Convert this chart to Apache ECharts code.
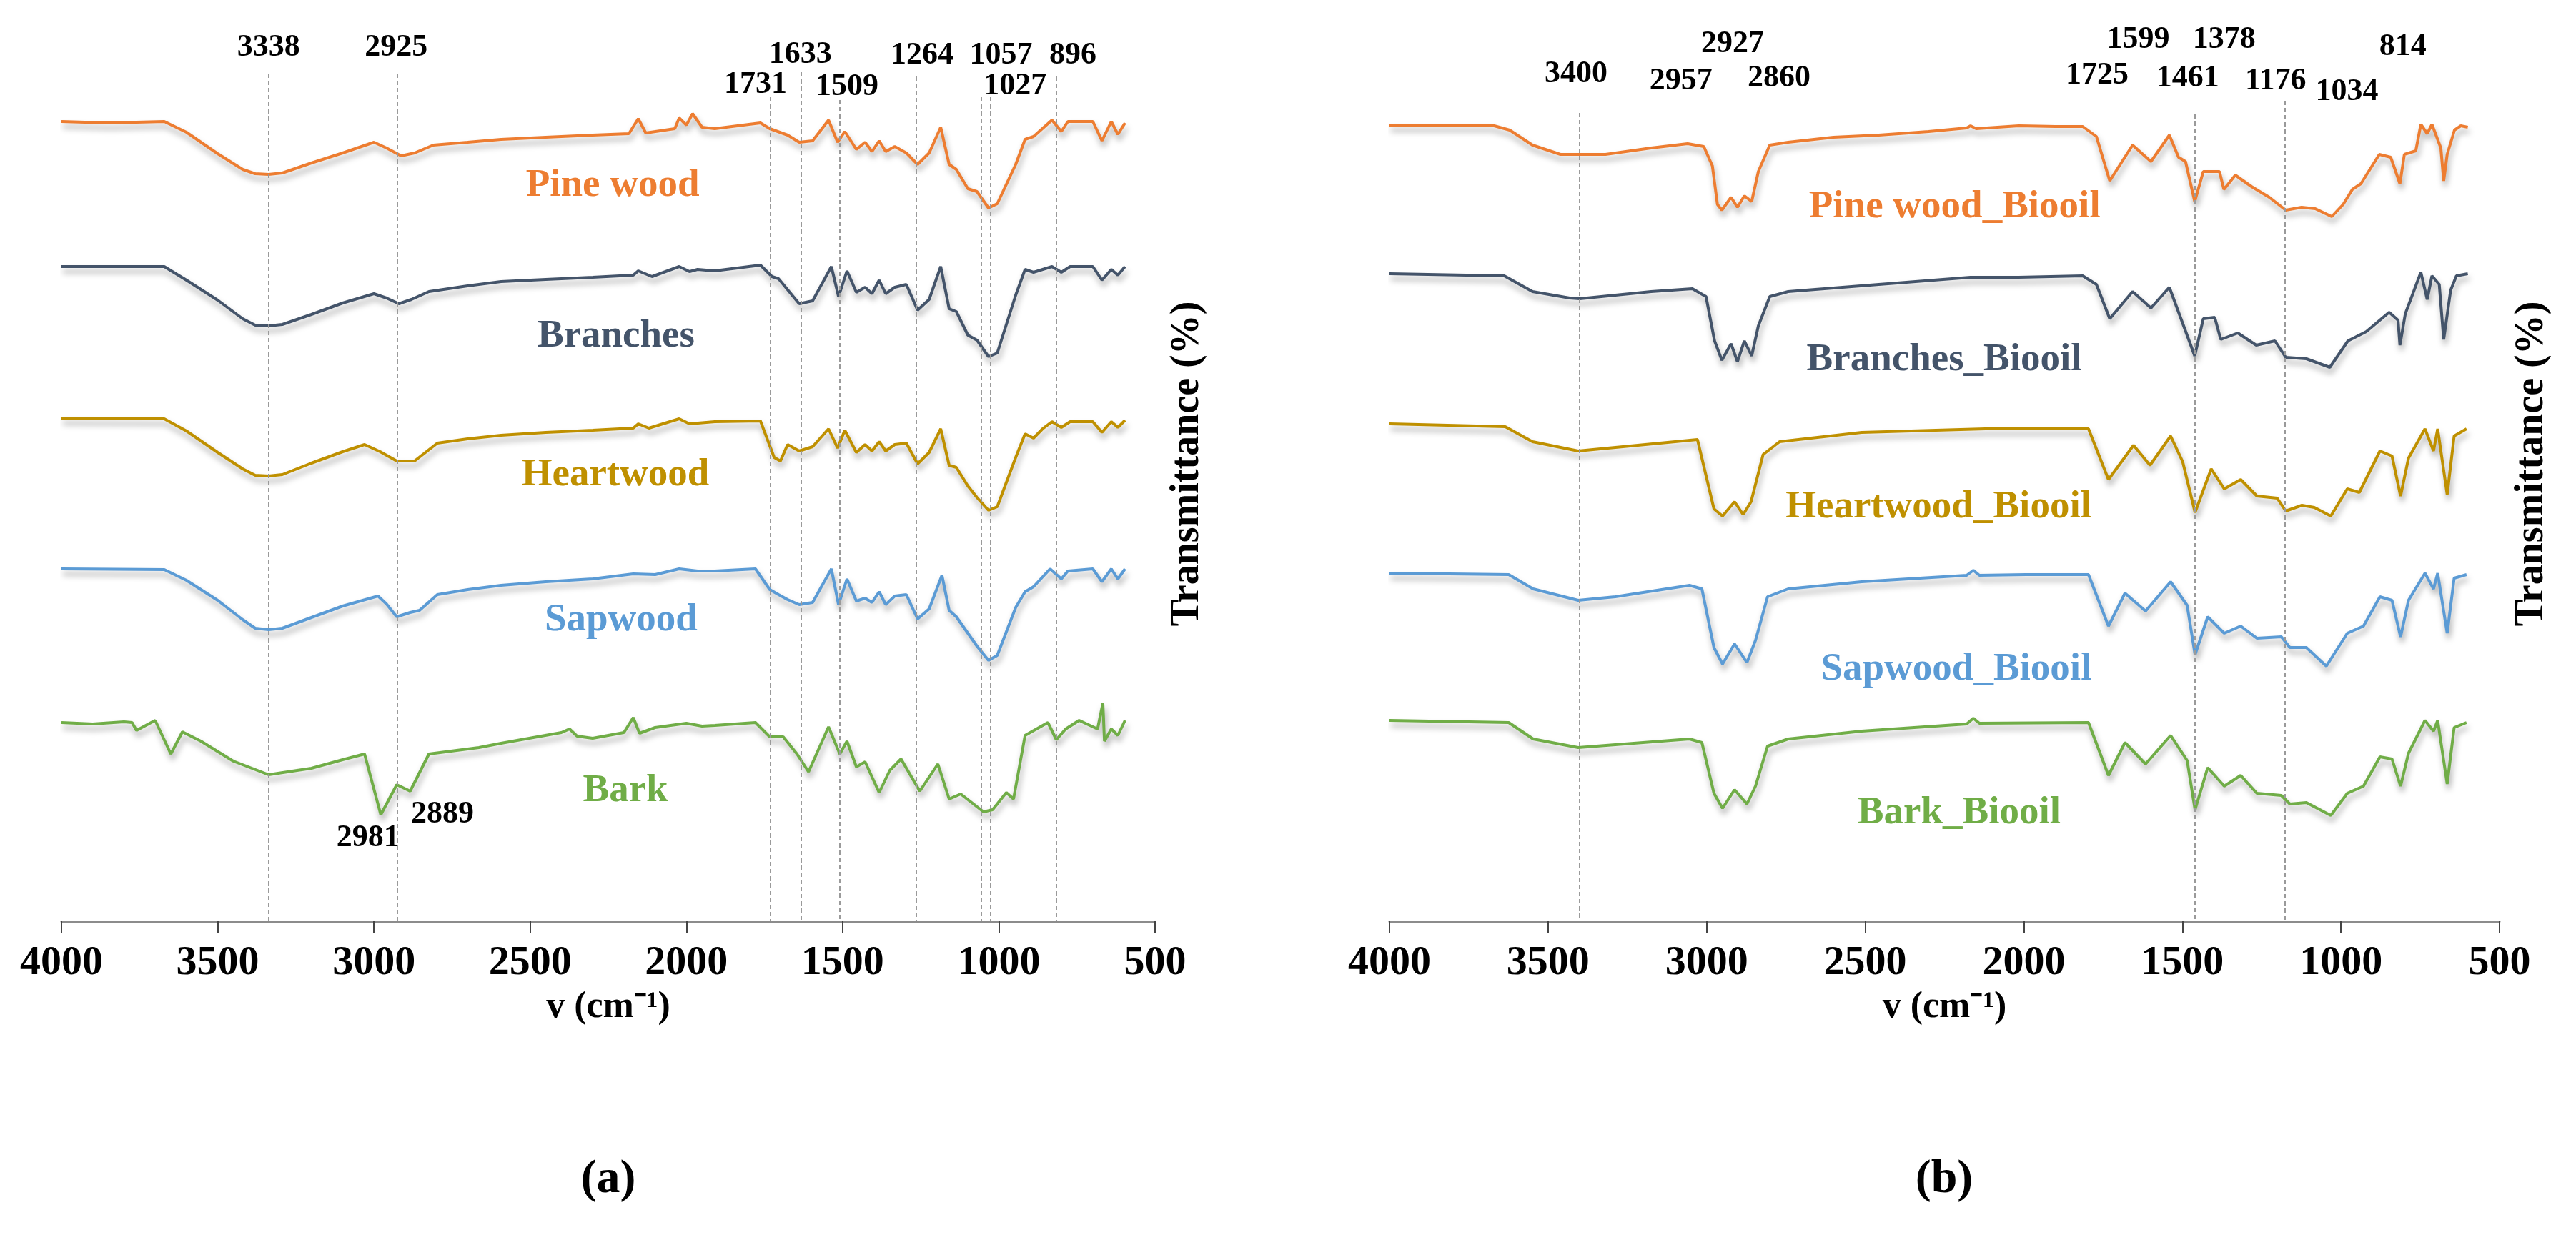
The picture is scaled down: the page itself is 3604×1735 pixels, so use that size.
<!DOCTYPE html>
<html>
<head>
<meta charset="utf-8">
<script src="https://cdn.jsdelivr.net/npm/echarts@6.0.0/dist/echarts.min.js"></script>
<style>
html, body { margin: 0; padding: 0; background: #fff; }
#chart { width: 3604px; height: 1735px; }
</style>
</head>
<body>
<div id="chart"></div>
<script>
// FTIR spectra, stacked (arbitrary transmittance units), [wavenumber, value]
const pineWood = [[4000,111.9],[3850,111.7],[3671,111.9],[3600,110.4],[3500,107.4],[3420,105.2],[3380,104.6],[3337,104.5],[3293,104.7],[3200,106.1],[3100,107.5],[3000,109.0],[2960,108.2],[2913,107.1],[2870,107.5],[2810,108.6],[2700,109.0],[2593,109.4],[2450,109.7],[2300,110.0],[2184,110.2],[2154,112.3],[2130,110.3],[2037,110.9],[2023,112.4],[2000,111.4],[1980,113.0],[1950,111.1],[1909,110.9],[1763,111.7],[1733,110.9],[1676,110.0],[1639,109.0],[1596,109.2],[1545,112.1],[1516,109.0],[1493,110.5],[1456,108.0],[1428,109.0],[1406,107.7],[1383,109.2],[1362,107.7],[1333,108.4],[1296,107.5],[1260,105.9],[1223,107.5],[1186,111.1],[1159,105.9],[1136,105.2],[1099,102.5],[1070,102.1],[1033,99.8],[1005,100.4],[946,105.9],[916,109.4],[889,109.8],[830,112.1],[800,110.5],[779,111.9],[699,111.9],[670,109.2],[640,111.9],[619,110.1],[596,111.7]];
const branches = [[4000,91.6],[3671,91.6],[3600,89.7],[3500,86.9],[3420,84.3],[3380,83.4],[3337,83.3],[3293,83.5],[3200,84.9],[3100,86.5],[3000,87.8],[2960,87.2],[2920,86.4],[2880,87.0],[2824,88.1],[2700,88.9],[2593,89.5],[2450,89.8],[2300,90.1],[2170,90.4],[2154,91.0],[2110,90.2],[2023,91.6],[1990,90.9],[1964,91.2],[1909,91.0],[1763,91.8],[1726,90.2],[1705,89.9],[1639,86.4],[1596,86.8],[1536,91.6],[1513,87.4],[1486,91.0],[1456,88.0],[1428,88.7],[1406,87.8],[1383,89.7],[1362,87.8],[1333,88.7],[1296,89.1],[1260,85.5],[1223,87.0],[1186,91.6],[1159,85.7],[1136,85.3],[1099,82.0],[1070,81.3],[1033,79.0],[1005,79.5],[946,87.6],[916,91.2],[889,90.8],[830,91.6],[800,90.8],[772,91.6],[699,91.6],[670,89.7],[640,91.2],[619,90.4],[596,91.6]];
const heartwood = [[4000,70.4],[3671,70.3],[3600,68.6],[3500,65.6],[3420,63.3],[3380,62.4],[3337,62.3],[3293,62.5],[3200,64.1],[3100,65.7],[3030,66.7],[2980,65.7],[2927,64.4],[2870,64.4],[2797,66.9],[2700,67.5],[2593,68.0],[2450,68.4],[2300,68.7],[2170,69.0],[2154,69.6],[2120,69.0],[2023,70.3],[1990,69.6],[1909,69.9],[1763,70.0],[1719,64.9],[1699,64.4],[1676,66.7],[1639,65.8],[1596,66.4],[1545,68.9],[1516,66.2],[1493,68.7],[1456,65.6],[1428,66.7],[1406,65.8],[1383,67.1],[1362,65.8],[1333,66.7],[1296,66.9],[1260,64.0],[1223,65.6],[1186,68.9],[1159,63.8],[1136,63.5],[1099,60.9],[1070,59.3],[1033,57.5],[1005,58.0],[946,64.9],[916,68.2],[889,67.6],[860,68.9],[830,69.9],[800,69.1],[772,69.9],[699,69.9],[670,68.4],[640,69.9],[619,69.1],[596,70.1]];
const sapwood = [[4000,49.3],[3671,49.2],[3600,47.7],[3500,44.9],[3420,42.2],[3380,41.0],[3337,40.8],[3293,41.0],[3200,42.5],[3100,44.1],[2987,45.5],[2960,44.4],[2927,42.6],[2884,43.2],[2854,43.5],[2797,45.7],[2700,46.4],[2593,47.0],[2450,47.5],[2300,47.9],[2170,48.6],[2100,48.5],[2023,49.3],[1964,49.0],[1909,49.0],[1779,49.3],[1733,46.4],[1705,45.7],[1676,45.0],[1639,44.3],[1596,44.6],[1536,49.3],[1513,44.3],[1486,47.9],[1456,44.8],[1428,45.2],[1406,44.6],[1383,46.1],[1362,44.3],[1333,45.5],[1296,45.7],[1260,42.3],[1223,43.7],[1182,48.4],[1159,43.5],[1136,42.6],[1099,40.3],[1070,38.5],[1033,36.5],[1005,37.2],[946,43.9],[916,46.1],[889,46.8],[836,49.3],[800,47.9],[779,49.0],[699,49.3],[670,47.5],[640,49.3],[619,47.9],[596,49.3]];
const bark = [[4000,27.8],[3900,27.6],[3800,27.9],[3774,27.8],[3760,26.7],[3700,28.1],[3650,23.4],[3613,26.5],[3554,25.2],[3450,22.4],[3337,20.5],[3200,21.4],[3100,22.6],[3030,23.4],[2978,14.9],[2927,19.1],[2884,18.2],[2824,23.4],[2664,24.3],[2593,24.9],[2400,26.4],[2374,26.9],[2350,25.9],[2300,25.6],[2200,26.4],[2170,28.5],[2150,26.3],[2100,27.1],[2050,27.4],[2000,27.7],[1950,27.3],[1909,27.4],[1779,27.8],[1733,25.8],[1690,25.8],[1646,23.4],[1609,20.9],[1545,27.2],[1509,23.4],[1486,25.2],[1456,21.6],[1428,22.3],[1383,18.0],[1349,21.1],[1313,22.7],[1253,18.2],[1195,22.0],[1159,17.1],[1122,17.8],[1049,15.3],[1020,15.6],[976,18.0],[953,17.1],[916,26.0],[843,27.8],[816,25.4],[786,26.9],[743,28.1],[684,26.9],[667,30.5],[662,25.2],[640,26.9],[619,26.0],[596,28.1]];

const pineWoodOil = [[4000,111.4],[3678,111.4],[3621,110.7],[3549,108.6],[3461,107.3],[3400,107.3],[3319,107.3],[3175,108.2],[3060,108.8],[3009,108.4],[2982,105.7],[2966,100.3],[2952,99.5],[2923,101.3],[2903,99.9],[2881,101.5],[2858,100.7],[2837,104.9],[2801,108.6],[2743,109.0],[2600,109.7],[2457,110.0],[2300,110.5],[2180,111.0],[2168,111.3],[2150,110.9],[2016,111.3],[1900,111.2],[1814,111.2],[1771,109.8],[1729,103.6],[1657,108.6],[1599,106.3],[1541,110.0],[1512,106.9],[1490,106.3],[1461,100.7],[1434,104.9],[1383,104.9],[1369,102.4],[1333,104.4],[1282,102.8],[1226,101.3],[1174,99.5],[1124,99.9],[1081,99.7],[1029,98.6],[993,100.3],[964,102.4],[937,103.2],[879,107.3],[843,106.9],[814,103.2],[800,107.3],[764,107.8],[748,111.5],[728,110.2],[713,111.5],[685,108.2],[676,103.6],[665,107.3],[642,110.7],[622,111.3],[600,111.1]];
const branchesOil = [[4000,90.6],[3638,90.3],[3549,88.1],[3432,87.2],[3400,87.1],[3175,88.1],[3045,88.5],[3002,87.4],[2975,81.2],[2952,78.5],[2923,80.8],[2903,78.3],[2881,81.2],[2858,79.1],[2837,83.3],[2801,87.4],[2743,88.1],[2457,89.1],[2168,90.1],[2016,90.1],[1814,90.3],[1771,89.1],[1729,84.3],[1657,88.1],[1599,85.8],[1541,88.7],[1506,84.5],[1461,79.1],[1434,84.3],[1398,84.5],[1379,81.4],[1325,82.3],[1267,80.6],[1208,81.2],[1174,78.9],[1109,78.7],[1035,77.5],[978,81.2],[920,82.5],[848,85.2],[820,84.1],[814,80.6],[797,85.0],[748,90.8],[728,87.0],[713,90.3],[690,89.1],[676,81.4],[654,88.3],[636,90.3],[600,90.6]];
const heartwoodOil = [[4000,69.6],[3635,69.2],[3549,67.1],[3405,65.8],[3029,67.4],[2977,57.7],[2950,56.7],[2912,58.7],[2885,56.9],[2860,58.7],[2822,65.3],[2770,67.1],[2511,68.4],[2121,68.9],[1796,68.9],[1733,61.8],[1654,66.6],[1602,63.8],[1537,67.9],[1499,64.3],[1460,57.2],[1409,63.3],[1368,60.5],[1316,61.8],[1265,59.5],[1201,59.2],[1174,57.4],[1123,58.2],[1084,57.9],[1032,56.7],[980,60.5],[942,60.0],[877,65.8],[839,65.1],[812,59.5],[787,64.8],[735,68.9],[708,65.8],[695,68.9],[665,59.7],[643,67.9],[604,68.9]];
const sapwoodOil = [[4000,48.7],[3624,48.5],[3547,46.5],[3405,44.9],[3288,45.4],[3054,47.0],[3015,46.5],[2977,38.3],[2950,36.0],[2912,38.8],[2873,36.2],[2846,39.3],[2808,45.4],[2743,46.5],[2511,47.5],[2180,48.4],[2159,49.1],[2140,48.4],[1993,48.5],[1796,48.5],[1733,41.3],[1681,45.9],[1616,43.4],[1537,47.5],[1485,44.2],[1460,37.3],[1420,42.6],[1368,40.3],[1316,41.3],[1265,39.6],[1188,39.8],[1161,38.3],[1109,38.3],[1046,35.7],[980,40.3],[929,41.3],[877,45.4],[839,44.9],[812,39.8],[787,44.9],[735,48.7],[708,46.5],[695,48.7],[665,40.3],[643,48.0],[604,48.5]];
const barkOil = [[4000,28.1],[3624,27.8],[3547,25.5],[3405,24.3],[3054,25.5],[3015,25.0],[2977,17.9],[2950,15.8],[2912,18.4],[2873,16.4],[2846,18.9],[2808,24.5],[2743,25.5],[2511,26.6],[2180,27.6],[2159,28.4],[2140,27.7],[1796,27.8],[1733,20.4],[1681,25.0],[1616,22.0],[1537,26.0],[1485,22.5],[1460,15.6],[1420,21.5],[1368,18.9],[1316,20.4],[1265,17.9],[1188,17.6],[1161,16.4],[1109,16.6],[1032,14.8],[980,17.9],[929,18.9],[877,23.0],[839,22.7],[812,18.9],[787,23.5],[735,28.1],[708,26.6],[695,28.1],[665,19.2],[643,27.1],[604,27.8]];

const namesA = ['Pine wood', 'Branches', 'Heartwood', 'Sapwood', 'Bark'];
const namesB = ['Pine wood_Biooil', 'Branches_Biooil', 'Heartwood_Biooil', 'Sapwood_Biooil', 'Bark_Biooil'];
const spectraA = [pineWood, branches, heartwood, sapwood, bark];
const spectraB = [pineWoodOil, branchesOil, heartwoodOil, sapwoodOil, barkOil];
const colors = ['#ED7D31', '#44546A', '#BF9000', '#5B9BD5', '#70AD47'];

// where each curve name sits: [wavenumber, value]
const nameAtA = [[2236,102.9],[2225,81.8],[2227,62.4],[2209,42.1],[2195,18.2]];
const nameAtB = [[2218,99.9],[2251,78.5],[2269,57.9],[2213,35.2],[2204,15.1]];

// band labels: [text, wavenumber, value]
const bandsA = [['3338',3337,122.2],['2925',2929,122.2],['1731',1779,117.0],['1633',1635,121.2],['1509',1486,116.7],['1264',1246,121.1],['1057',993,121.1],['1027',948,116.8],['896',763,121.1],['2981',3019,11.6],['2889',2781,14.9]];
const bandsB = [['3400',3412,118.5],['2957',3081,117.5],['2927',2918,122.7],['2860',2772,117.9],['1599',1639,123.3],['1378',1368,123.3],['1725',1769,118.3],['1461',1483,117.9],['1176',1206,117.5],['1034',981,116.0],['814',805,122.3]];

// dotted guide lines: [wavenumber, top value]
const guidesA = [[3338,118.6],[2925,118.6],[1731,115.3],[1633,118.8],[1509,114.9],[1264,118.2],[1057,115.3],[1027,115.3],[816,118.2]];
const guidesB = [[3400,113.1],[1461,112.9],[1176,114.8]];

const FONT = '"Liberation Serif", "Times New Roman", serif';

const chart = echarts.init(document.getElementById('chart'));

function xAxisFor(i) {
    return {
        gridIndex: i,
        type: 'value',
        min: 500,
        max: 4000,
        interval: 500,
        inverse: true,
        axisLine: { lineStyle: { color: '#8c8c8c', width: 3 } },
        axisTick: { length: 16, lineStyle: { color: '#444', width: 2 } },
        axisLabel: {
            fontSize: 58, fontWeight: 'bold', fontFamily: FONT, color: '#000', margin: 30,
            formatter: v => String(v)
        },
        splitLine: { show: false },
        name: 'v (cm⁻¹)',
        nameLocation: 'middle',
        nameGap: 95,
        nameTextStyle: { fontSize: 52, fontWeight: 'bold', fontFamily: FONT, color: '#000' }
    };
}

function yAxisFor(i) {
    return {
        gridIndex: i,
        type: 'value',
        min: 0,
        max: 128,
        position: 'right',
        axisLine: { show: false },
        axisTick: { show: false },
        axisLabel: { show: false },
        splitLine: { show: false },
        name: 'Transmittance (%)',
        nameLocation: 'middle',
        nameRotate: 90,
        nameGap: 18,
        nameTextStyle: { fontSize: 56, fontWeight: 'bold', fontFamily: FONT, color: '#000' }
    };
}

// invisible points that only carry a text label
function textSeries(i, items, size) {
    return {
        type: 'scatter',
        xAxisIndex: i,
        yAxisIndex: i,
        silent: true,
        clip: false,
        symbolSize: 0,
        itemStyle: { color: '#fff', opacity: 1 },
        label: {
            show: true, position: 'inside', formatter: '{b}', opacity: 1,
            fontSize: size, fontWeight: 'bold', fontFamily: FONT, color: '#000',
            textBorderWidth: 0
        },
        data: items
    };
}

function panelSeries(i, spectra, names, nameAt, bands, guides) {
    const out = spectra.map((d, k) => ({
        type: 'line',
        name: names[k],
        xAxisIndex: i,
        yAxisIndex: i,
        data: d,
        symbol: 'none',
        z: 3,
        lineStyle: {
            color: colors[k],
            width: 4,
            shadowColor: 'rgba(0,0,0,0.35)',
            shadowBlur: 8,
            shadowOffsetX: 2,
            shadowOffsetY: 7
        },
        itemStyle: { color: colors[k] }
    }));
    out[0].markLine = {
        silent: true,
        symbol: ['none', 'none'],
        label: { show: false },
        lineStyle: { color: '#9a9a9a', width: 2, type: [6, 4] },
        data: guides.map(g => [{ coord: [g[0], g[1]] }, { coord: [g[0], 0] }])
    };
    out.push(textSeries(i, bands.map(b => ({ name: b[0], value: [b[1], b[2]] })), 44));
    out.push(textSeries(i, names.map((n, k) => ({ name: n, value: nameAt[k], label: { color: colors[k] } })), 55));
    return out;
}

function panelTitle(letter, x) {
    return {
        text: '{p|(}{b|' + letter + '}{p|)}',
        left: x,
        top: 1618,
        textAlign: 'center',
        padding: 0,
        textStyle: {
            rich: {
                p: { fontSize: 66, fontFamily: FONT, color: '#000' },
                b: { fontSize: 66, fontWeight: 'bold', fontFamily: FONT, color: '#000' }
            }
        }
    };
}

chart.setOption({
    animation: false,
    backgroundColor: '#fff',
    title: [panelTitle('a', 851), panelTitle('b', 2720)],
    grid: [
        { left: 86, top: 9, width: 1530, height: 1280 },
        { left: 1944, top: 9, width: 1553, height: 1280 }
    ],
    xAxis: [xAxisFor(0), xAxisFor(1)],
    yAxis: [yAxisFor(0), yAxisFor(1)],
    series: panelSeries(0, spectraA, namesA, nameAtA, bandsA, guidesA)
        .concat(panelSeries(1, spectraB, namesB, nameAtB, bandsB, guidesB))
});
</script>
</body>
</html>
